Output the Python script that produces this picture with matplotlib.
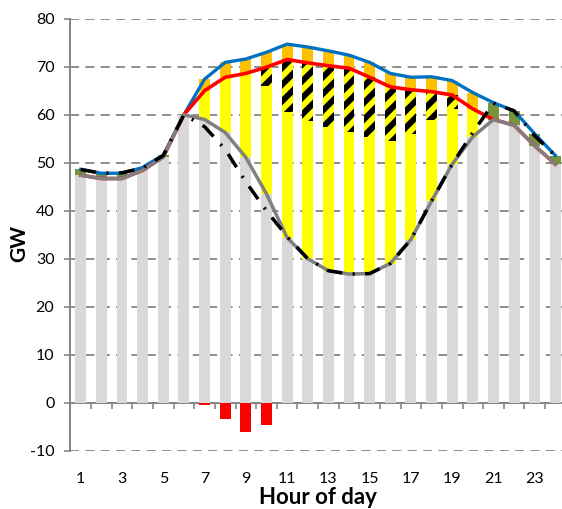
import matplotlib

matplotlib.use("Agg")
import matplotlib.pyplot as plt  # noqa: E402
import numpy as np  # noqa: E402

plt.rcParams["font.family"] = ["Lato", "DejaVu Sans"]
plt.rcParams["hatch.linewidth"] = 4.3
plt.rcParams["hatch.color"] = "black"

hours = np.arange(1, 25)

# stacked bar segments (GW)
conventional = [47.4, 46.7, 46.7, 48.4, 51.2, 60.0, 59.0, 56.3, 51.1, 43.5, 34.4, 30.0,
                27.5, 26.8, 26.9, 29.0, 34.0, 42.0, 49.7, 55.4, 59.0, 57.8, 53.5, 49.7]
solar = [0, 0, 0, 0, 0, 0, 6.0, 11.5, 17.5, 22.5, 26.2, 28.6,
         29.9, 29.7, 28.5, 25.6, 22.0, 16.9, 11.5, 5.8, 0, 0, 0, 0]
shifted = [0, 0, 0, 0, 0, 0, 0, 0, 0, 3.9, 10.9, 12.2,
           12.8, 13.2, 12.4, 11.2, 9.2, 5.9, 2.9, 0, 0, 0, 0, 0]
reserve = [0, 0, 0, 0, 0, 0, 2.4, 3.1, 3.0, 3.1, 3.2, 3.3,
           3.1, 2.7, 3.1, 2.8, 2.6, 3.1, 3.0, 3.4, 0, 0, 0, 0]
storage = [1.2, 1.1, 1.1, 0.6, 0.4, 0, 0, 0, 0, 0, 0, 0,
           0, 0, 0, 0, 0, 0, 0, 0, 3.5, 3.0, 2.5, 1.8]
export = [0, 0, 0, 0, 0, 0, -0.5, -3.3, -6.2, -4.7, 0, 0,
          0, 0, 0, 0, 0, 0, 0, 0, 0, 0, 0, 0]

# dash-dot line (GW)
alt_net = [48.6, 47.8, 47.9, 48.9, 51.5, 60.0, 57.5, 52.8, 46.0, 40.0, 34.6, 30.0,
           27.5, 26.8, 26.9, 29.0, 34.0, 42.0, 49.7, 56.3, 62.4, 60.8, 55.6, 51.4]

yticks = np.arange(-10, 81, 10)
xlabels = hours[::2]

conv = np.array(conventional)
after_solar = conv + np.array(solar)
after_shift = after_solar + np.array(shifted)
after_res = after_shift + np.array(reserve)
total = after_res + np.array(storage)

fig = plt.figure(figsize=(5.62, 5.09), dpi=100)
ax = fig.add_axes([70.4 / 562, 58.3 / 509, 495.3 / 562, 432 / 509])

w = 0.53
ax.bar(hours, conventional, w, color="#D9D9D9", linewidth=0, zorder=2)
ax.bar(hours, solar, w, bottom=conv, color="#FFFF00", linewidth=0, zorder=2)
ax.bar(hours, shifted, w, bottom=after_solar, color="#FFFF00", edgecolor="black",
       hatch="//", linewidth=0, zorder=2)
ax.bar(hours, reserve, w, bottom=after_shift, color="#FFC000", linewidth=0, zorder=2)
ax.bar(hours, storage, w, bottom=after_res, color="#77933C", linewidth=0, zorder=2)
ax.bar(hours, export, w, color="#FF0000", linewidth=0, zorder=2)

ax.plot(hours, total, color="#0070C0", lw=2.4, zorder=4, solid_joinstyle="round")
ax.plot(hours, after_shift, color="#FF0000", lw=2.6, zorder=5, solid_joinstyle="round")
ax.plot(hours, conv, color="#808080", lw=2.5, zorder=6, solid_joinstyle="round")
ax.plot(hours, alt_net, color="black", lw=2.5, zorder=7,
        linestyle=(0, (4.5, 3.0, 0.6, 3.0)))

ax.set_xlim(0.5, 24.5)
ax.set_ylim(-10, 80)
ax.set_yticks(yticks)
ax.set_yticklabels([str(v) for v in yticks], fontsize=11.5)
ax.yaxis.grid(True, color="#868686", lw=1.3, linestyle=(0, (5, 3.5)), zorder=0)
ax.set_axisbelow(True)

for s in ("top", "right", "bottom"):
    ax.spines[s].set_visible(False)
ax.spines["left"].set_color("#868686")
ax.spines["left"].set_linewidth(1.4)
ax.tick_params(axis="y", direction="out", length=4, width=1.2, color="#868686", pad=7.5)

ax.set_xticks(xlabels)
ax.set_xticklabels([str(v) for v in xlabels], fontsize=11.5)
ax.tick_params(axis="x", length=0, pad=15)

# category axis crossing at zero, with tick marks between categories
sec = ax.secondary_xaxis(10 / 90)
sec.set_xticks(np.arange(0.5, 25, 1.0))
sec.set_xticklabels([])
sec.spines["bottom"].set_color("#868686")
sec.spines["bottom"].set_linewidth(1.4)
sec.tick_params(axis="x", direction="out", length=4, width=1.2, color="#868686")

ax.set_xlabel("Hour of day", fontsize=16, fontweight="bold")
ax.xaxis.set_label_coords(0.5, -0.085)
ax.set_ylabel("GW", fontsize=15, fontweight="bold")
ax.yaxis.set_label_coords(-0.084, 0.48)

fig.savefig("out.png", dpi=100)
